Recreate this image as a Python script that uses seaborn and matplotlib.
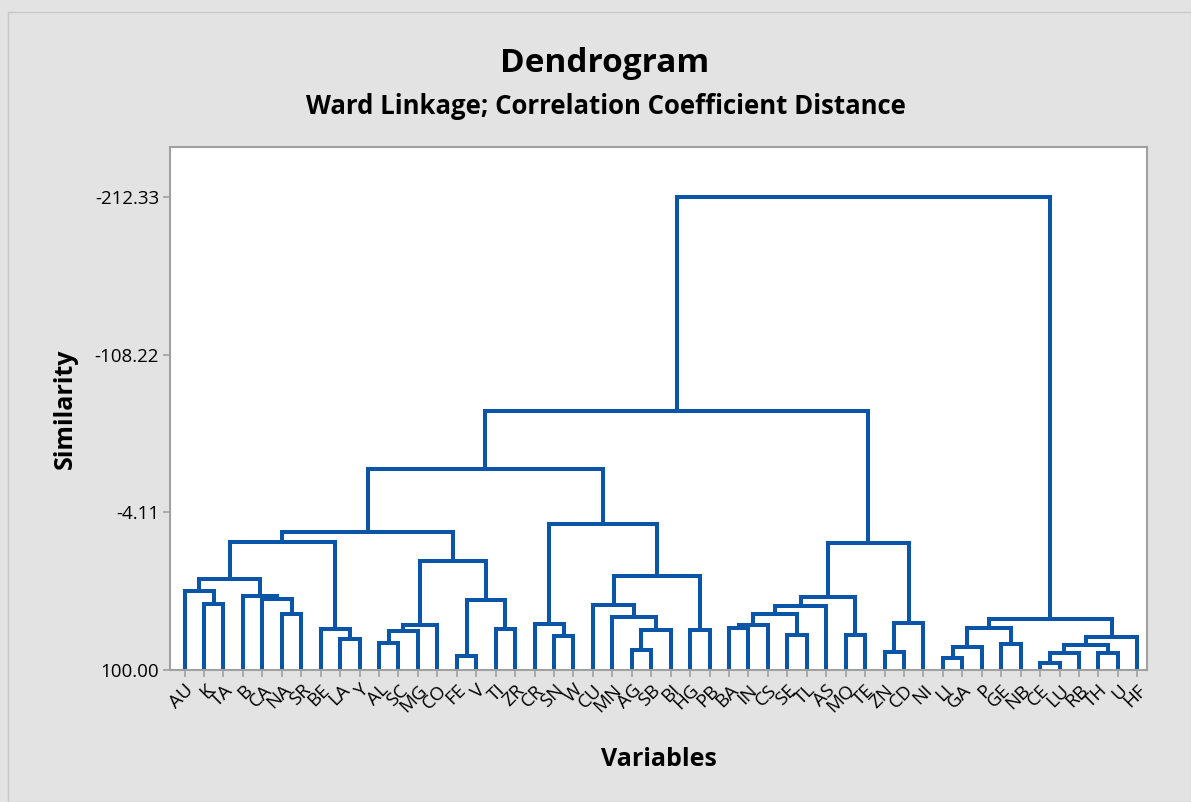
import matplotlib
matplotlib.use("Agg")
import matplotlib.pyplot as plt
import seaborn as sns
import pandas as pd

# ---------------- data ----------------
leaves = ["AU", "K", "TA", "B", "CA", "NA", "SR", "BE", "LA", "Y", "AL", "SC", "MG", "CO",
          "FE", "V", "TI", "ZR", "CR", "SN", "W", "CU", "MN", "AG", "SB", "BI", "HG", "PB",
          "BA", "IN", "CS", "SE", "TL", "AS", "MO", "TE", "ZN", "CD", "NI", "LI", "GA", "P",
          "GE", "NB", "CE", "LU", "RB", "TH", "U", "HF"]

# merge k creates cluster "c{k}"
merge_left = ["K", "AU", "NA", "CA", "B", "c1", "LA", "BE", "c5", "AL", "c9", "c10", "FE",
              "TI", "c12", "c11", "c8", "SN", "CR", "AG", "c19", "MN", "CU", "HG", "c22",
              "c18", "c16", "BA", "c27", "SE", "c28", "c30", "MO", "c31", "ZN", "c34", "c33",
              "c26", "LI", "c38", "GE", "c39", "CE", "c42", "TH", "c43", "c45", "c41", "c37"]
merge_right = ["TA", "c0", "SR", "c2", "c3", "c4", "Y", "c6", "c7", "SC", "MG", "CO", "V",
               "ZR", "c13", "c14", "c15", "W", "c17", "SB", "BI", "c20", "c21", "PB", "c23",
               "c24", "c25", "IN", "CS", "TL", "c29", "AS", "TE", "c32", "CD", "NI", "c35",
               "c36", "GA", "P", "NB", "c40", "LU", "RB", "U", "c44", "HF", "c46", "c47"]
merge_sim = [56.6, 47.6, 63.2, 53.3, 50.9, 39.9, 79.5, 72.9, 15.3, 82.4, 74.0, 70.3, 90.6,
             72.9, 53.8, 28.0, 8.7, 77.4, 69.6, 86.5, 73.6, 64.8, 57.1, 73.6, 37.9,
             3.8, -32.9, 72.3, 70.0, 76.9, 63.0, 57.7, 76.9, 52.0, 87.9, 68.8, 16.3,
             -71.2, 91.9, 84.6, 83.0, 72.1, 95.6, 89.0, 89.0, 83.5, 78.0, 66.5, -212.33]

ytick_vals = [100.0, -4.11, -108.22, -212.33]
ytick_labels = ["100.00", "-4.11", "-108.22", "-212.33"]

# ---------------- build bracket segments ----------------
pos = {name: (i, 100.0) for i, name in enumerate(leaves)}
rows = []
for k, (a, b, s) in enumerate(zip(merge_left, merge_right, merge_sim)):
    xa, ya = pos[a]
    xb, yb = pos[b]
    for order, (x, y) in enumerate([(xa, ya), (xa, s), (xb, s), (xb, yb)]):
        rows.append({"x": x, "y": y, "unit": k, "order": order})
    pos[f"c{k}"] = ((xa + xb) / 2.0, s)
seg = pd.DataFrame(rows)

# ---------------- plot ----------------
sns.set_theme(style="white")
plt.rcParams["font.family"] = ["Open Sans", "DejaVu Sans"]
plt.rcParams["text.color"] = "black"
plt.rcParams["axes.labelcolor"] = "black"

fig = plt.figure(figsize=(11.91, 8.02), dpi=100, facecolor="#e3e3e3")
fig.patches.append(plt.Rectangle((8 / 1191, 0), 1 - 8 / 1191, 1 - 12 / 802,
                                 transform=fig.transFigure, fill=False,
                                 edgecolor="#c8c8c8", linewidth=1.0, zorder=-1))
ax = fig.add_axes([170 / 1191, 1 - 670 / 802, (1147 - 170) / 1191, (670 - 147) / 802])
ax.set_facecolor("white")

sns.lineplot(data=seg, x="x", y="y", units="unit", estimator=None, sort=False,
             color="#0a55a8", linewidth=2.9, ax=ax, legend=False,
             solid_joinstyle="miter", solid_capstyle="butt")

ax.set_xlim(-0.75, 49.5)
ax.set_ylim(100, -245.5)

ax.set_xticks(range(len(leaves)))
ax.set_xticklabels(leaves, rotation=45, ha="right", va="top", rotation_mode="anchor",
                   fontsize=13.5, color="black")
ax.set_yticks(ytick_vals)
ax.set_yticklabels(ytick_labels, fontsize=13.5, color="black")
ax.tick_params(axis="both", which="both", direction="out", length=5, width=1.2,
               color="#a0a0a0", bottom=True, left=True, pad=3)

for side in ["left", "bottom", "top", "right"]:
    ax.spines[side].set_color("#a0a0a0")
    ax.spines[side].set_linewidth(1.5)

ax.set_xlabel("Variables", fontsize=18, fontweight="bold", labelpad=22, color="black")
ax.set_ylabel("Similarity", fontsize=18, fontweight="bold", labelpad=12, color="black")

fig.text(605 / 1191, 1 - 64 / 802, "Dendrogram", ha="center", va="center",
         fontsize=24, fontweight="bold", color="black")
fig.text(606 / 1191, 1 - 106 / 802, "Ward Linkage; Correlation Coefficient Distance",
         ha="center", va="center", fontsize=18.5, fontweight="bold", color="black")

fig.savefig("out.png", dpi=100, facecolor=fig.get_facecolor())
